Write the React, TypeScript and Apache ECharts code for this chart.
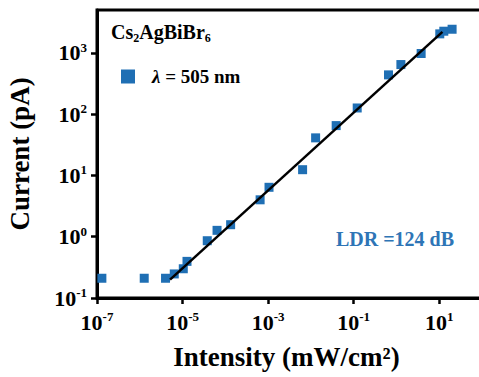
import React, { useEffect, useRef } from 'react';
import * as echarts from 'echarts';

const intensity = [1.3e-7, 1.27e-6, 4.0e-6, 6.4e-6, 1.04e-5, 1.27e-5, 3.78e-5, 6.4e-5, 1.33e-4, 6.5e-4, 1.05e-3, 6.4e-3, 1.29e-2, 3.9e-2, 0.121, 0.653, 1.27, 3.78, 10.3, 12.8, 20];
const current = [0.21, 0.21, 0.21, 0.247, 0.3, 0.396, 0.86, 1.27, 1.57, 4.0, 6.4, 12.4, 41, 65, 126, 437, 644, 975, 2040, 2254, 2427];
const fitIntensity = [5.1e-6, 11.9];
const fitCurrent = [0.2, 2200];
const xTickValues = [1e-7, 1e-5, 1e-3, 1e-1, 1e1];
const yTickValues = [1e-1, 1, 10, 100, 1000];
const seriesName = 'λ = 505 nm';
const ldrText = 'LDR =124 dB';
const xName = 'Intensity (mW/cm²)';
const yName = 'Current (pA)';

const FONT = "'Liberation Serif', 'Times New Roman', serif";
const BLUE = '#1f6fb4';

const powLabel = (v: number) => {
  const e = Math.round(Math.log10(v));
  return `{b|10}{s|${e}}`;
};

const tickRich = {
  b: { fontSize: 22, fontWeight: 'bold', fontFamily: FONT, color: '#000', lineHeight: 24 },
  s: { fontSize: 13, fontWeight: 'bold', fontFamily: FONT, color: '#000', verticalAlign: 'top', lineHeight: 13 },
};

export default function App() {
  const ref = useRef<HTMLDivElement>(null);
  useEffect(() => {
    if (!ref.current) return;
    const chart = echarts.init(ref.current, undefined, { renderer: 'svg' });
    const scatterData = intensity.map((x, i) => [x, current[i]]);
    const fitData = fitIntensity.map((x, i) => [x, fitCurrent[i]]);
    chart.setOption({
      animation: false,
      backgroundColor: '#fff',
      title: [
        {
          text: '{a|Cs}{s|2}{a|AgBiBr}{s|6}',
          left: 111,
          top: 22,
          padding: 0,
          textStyle: {
            rich: {
              a: { fontSize: 20, fontWeight: 'bold', fontFamily: FONT, color: '#000', lineHeight: 20, verticalAlign: 'top' },
              s: { fontSize: 12, fontWeight: 'bold', fontFamily: FONT, color: '#000', verticalAlign: 'top', lineHeight: 12, padding: [10, 0, 0, 0] },
            },
          },
        },
        {
          text: ldrText,
          left: 336,
          top: 229,
          padding: 0,
          textStyle: { fontSize: 20, fontWeight: 'bold', fontFamily: FONT, color: '#2e75b6' },
        },
      ],
      legend: {
        data: [seriesName],
        left: 121,
        top: 67,
        padding: 0,
        itemWidth: 14,
        itemHeight: 14,
        icon: 'rect',
        formatter: () => '{i|λ}{n| = 505 nm}',
        textStyle: {
          rich: {
            i: { fontSize: 19, fontWeight: 'bold', fontStyle: 'italic', fontFamily: FONT, color: '#000', padding: [0, 0, 0, 12] },
            n: { fontSize: 19, fontWeight: 'bold', fontFamily: FONT, color: '#000' },
          },
        },
      },
      grid: {
        left: 97,
        top: 10,
        width: 385,
        height: 288,
        show: true,
        borderColor: '#000',
        borderWidth: 3,
        outerBoundsMode: 'none',
      },
      xAxis: {
        type: 'log',
        logBase: 10,
        min: 1e-7,
        max: 100,
        name: xName,
        nameLocation: 'middle',
        nameGap: 45,
        nameTextStyle: { fontSize: 27, fontWeight: 'bold', fontFamily: FONT, color: '#000', padding: [0, 6, 0, 0] },
        axisLine: { show: true, lineStyle: { color: '#000', width: 3 } },
        axisTick: { show: true, inside: false, length: 6, customValues: xTickValues, lineStyle: { color: '#000', width: 2.5 } },
        minorTick: { show: false },
        axisLabel: { customValues: xTickValues, formatter: powLabel, rich: tickRich, margin: 12 },
        splitLine: { show: false },
      },
      yAxis: {
        type: 'log',
        logBase: 10,
        min: 0.1,
        max: 5000,
        name: yName,
        nameLocation: 'middle',
        nameRotate: 90,
        nameGap: 64,
        nameTextStyle: { fontSize: 27, fontWeight: 'bold', fontFamily: FONT, color: '#000' },
        axisLine: { show: true, lineStyle: { color: '#000', width: 3 } },
        axisTick: { show: true, inside: false, length: 6, customValues: yTickValues, lineStyle: { color: '#000', width: 2.5 } },
        minorTick: { show: false },
        axisLabel: { customValues: yTickValues, formatter: powLabel, rich: tickRich, margin: 10 },
        splitLine: { show: false },
      },
      series: [
        {
          name: seriesName,
          type: 'scatter',
          symbol: 'rect',
          symbolSize: 9,
          itemStyle: { color: BLUE, opacity: 1 },
          data: scatterData,
        },
        {
          name: 'fit',
          type: 'line',
          symbol: 'none',
          lineStyle: { color: '#000', width: 2.5 },
          data: fitData,
        },
      ],
    });
    return () => chart.dispose();
  }, []);
  return (
    <div style={{ position: 'fixed', left: 0, top: 0, width: 479, height: 377, overflow: 'hidden', background: '#fff' }}>
      <div ref={ref} style={{ width: 490, height: 377 }} />
    </div>
  );
}
